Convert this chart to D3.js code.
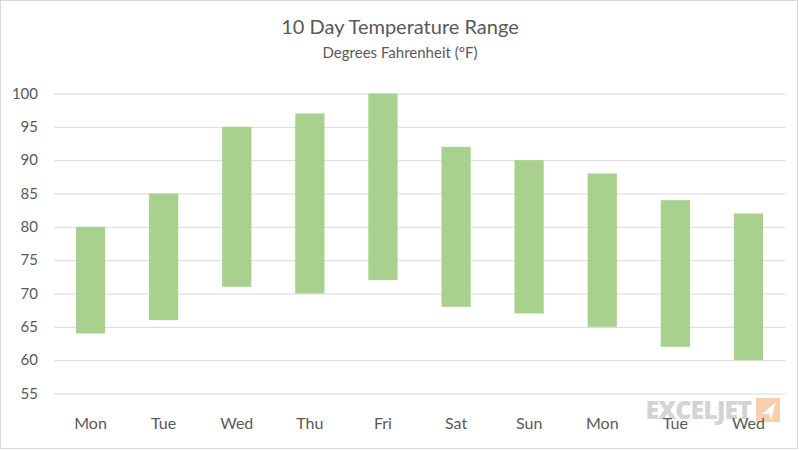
<!DOCTYPE html>
<html><head><meta charset="utf-8">
<script src="https://cdn.jsdelivr.net/npm/d3@7"></script>
<style>body{margin:0;background:#fff;}svg{display:block;}</style>
</head><body>
<svg id="c" width="799" height="450"></svg>
<script>
const days = ["Mon","Tue","Wed","Thu","Fri","Sat","Sun","Mon","Tue","Wed"];
const lows = [64,66,71,70,72,68,67,65,62,60];
const highs = [80,85,95,97,100,92,90,88,84,82];
const yTicks = [55,60,65,70,75,80,85,90,95,100];
const title = "10 Day Temperature Range";
const subtitle = "Degrees Fahrenheit (°F)";

const svg = d3.select("#c");
const font = "Lato, 'Open Sans', sans-serif";
svg.append("rect").attr("x",0.5).attr("y",0.5).attr("width",797).attr("height",448)
  .attr("fill","#fff").attr("stroke","#d9d9d9");

const left = 54, right = 785;
const x = d3.scaleBand().domain(d3.range(days.length)).range([left,right]).paddingInner(0.6).paddingOuter(0.3);
const y = d3.scaleLinear().domain([55,100]).range([393.5,93.5]);

svg.append("text").attr("x",400).attr("y",34).attr("text-anchor","middle")
  .attr("font-family",font).attr("font-size",20).attr("fill","#595959").text(title);
svg.append("text").attr("x",400).attr("y",58).attr("text-anchor","middle")
  .attr("font-family",font).attr("font-size",15).attr("fill","#595959").text(subtitle);

const yAxis = d3.axisLeft(y).tickValues(yTicks).tickSize(-(right-left)).tickPadding(16);
const gy = svg.append("g").attr("transform",`translate(${left},0)`).call(yAxis);
gy.select(".domain").remove();
gy.selectAll(".tick line").attr("stroke","#d9d9d9");
gy.selectAll(".tick text").attr("font-family",font).attr("font-size",15).attr("fill","#595959");

// watermark logo
const wm = svg.append("g");
wm.append("rect").attr("x",756).attr("y",398).attr("width",24).attr("height",24).attr("fill","#f8cfae");
wm.append("text").attr("x",751).attr("y",419).attr("text-anchor","end").attr("font-family","'Open Sans', sans-serif")
  .attr("font-weight",800).attr("font-size",25).attr("fill","#d4d4d4").attr("letter-spacing",-1).text("EXCELJET");
wm.append("path").attr("d","M776,402 L762,414 L769,414 L771,420 Z").attr("fill","#fff");

svg.append("g").selectAll("rect").data(days).join("rect")
  .attr("x",(d,i)=>x(i)).attr("width",x.bandwidth())
  .attr("y",(d,i)=>y(highs[i])).attr("height",(d,i)=>y(lows[i])-y(highs[i]))
  .attr("fill","#a9d18e");

const xAxis = d3.axisBottom(x).tickFormat(i=>days[i]).tickSize(0).tickPadding(24);
const gx = svg.append("g").attr("transform",`translate(0,393.5)`).call(xAxis);
gx.select(".domain").remove();
gx.selectAll(".tick text").attr("font-family",font).attr("font-size",16).attr("fill","#595959");
</script>
</body></html>
